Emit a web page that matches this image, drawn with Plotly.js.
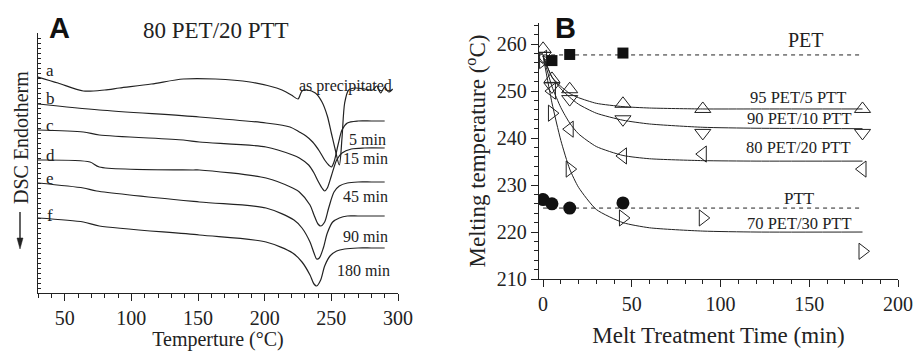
<!DOCTYPE html>
<html><head><meta charset="utf-8">
<script src="https://cdn.plot.ly/plotly-3.0.1.min.js"></script>
<style>body{margin:0;background:#fff}#chart{width:916px;height:351px}</style>
</head><body><div id="chart"></div>
<script>
// ---------- Panel A: DSC traces (heat flow, arbitrary units, offset) ----------
const tA = [30,45,64,80,91,115,139,163,189,209,213,220,225,228,232,238,243,247,250,253,256,258,260,263,268,275,281,284,287,290,293,296];
const flowA = [211,205,197,198,200,204,209,209,206,200,198,193,189,197,198,195,186,172,155,138,123,150,185,198,200,199,198,202,195,201,196,199];
const tB = [30,76,151,201,219,226,231,236,241,245,248,250,252,255,258,262,270,280,290];
const flowB = [184,178,171,165,161,156,152,146,137,128,123,121,126,143,158,165,167,167,167];
const tC = [30,64,76,139,151,201,221,226,233,237,240,243,245,247,250,254,258,265,275,290];
const flowC = [158,156,153,148,146,141,133,130,123,115,107,100,97,100,112,128,135,139,140,140];
const tD = [30,69,76,146,151,201,221,226,234,237,240,242,245,248,252,256,262,270,280,290];
const flowD = [128,126,121,118,118,110,100,96,83,73,64,62,66,80,96,102,105,106,106,106];
const tE = [30,64,74,151,201,222,228,234,237,239,241,244,247,251,256,262,270,280,290];
const flowE = [105,100,97,86,80,68,60,46,35,29,30,40,55,66,70,72,72,72,72];
const tF = [30,64,76,151,201,221,228,234,237,239,242,245,249,254,260,270,280,290];
const flowF = [70,66,62,53,46,35,26,13,4,2,8,22,32,37,39,40,40,40];
const curveLetters = ['a','b','c','d','e','f'];
const curveTimes = ['as precipitated','5 min','15 min','45 min','90 min','180 min'];

// ---------- Panel B: melting temperature vs melt treatment time ----------
const treatTime = [0,5,15,45,90,180];
const tm95 = [259.0,252.6,250.4,247.3,246.2,246.2];
const tm90 = [257.5,251.0,248.3,244.0,241.1,241.1];
const tm80 = [257.0,250.0,241.9,236.2,236.6,233.4];
const tm70 = [256.5,245.3,233.4,223.0,223.0,215.9];
const petTime = [5,15,45];
const tmPET = [256.5,257.8,258.1];
const pttTime = [0,5,15,45];
const tmPTT = [226.9,226.0,225.1,226.2];
// fitted curves
const fitTime = [0,5,10,15,20,30,45,60,90,120,180];
const fit95 = [257.5,253.0,251.0,249.5,248.6,247.4,246.7,246.4,246.2,246.2,246.2];
const fit90 = [257.5,253.0,250.5,248.7,247.2,245.3,243.8,243.0,242.3,242.1,242.0];
const fit80 = [257.5,251.0,246.5,243.2,240.9,238.2,236.3,235.6,235.2,235.1,235.1];
const fit70 = [257.5,247.5,239.5,233.4,229.5,224.8,222.0,220.9,220.2,220.0,220.0];
const refTime = [0,180];
const refPET = [257.7,257.7];
const refPTT = [225.1,225.1];
const seriesLabels = ['95 PET/5 PTT','90 PET/10 PTT','80 PET/20 PTT','70 PET/30 PTT'];

const W = 916, H = 351;
const px = x => x / W, py = y => 1 - y / H;
const serif = 'Liberation Serif, Times New Roman, serif';
const ink = '#222';

const traces = [];
[[tA,flowA],[tB,flowB],[tC,flowC],[tD,flowD],[tE,flowE],[tF,flowF]].forEach(([x,y]) => {
  traces.push({x:x, y:y, xaxis:'x', yaxis:'y', mode:'lines', line:{color:ink, width:1.2, shape:'spline', smoothing:0.8}, hoverinfo:'skip'});
});
traces.push({x:refTime, y:refPET, xaxis:'x2', yaxis:'y2', mode:'lines', line:{color:ink, width:1, dash:'4px,4px'}});
traces.push({x:refTime, y:refPTT, xaxis:'x2', yaxis:'y2', mode:'lines', line:{color:ink, width:1, dash:'4px,4px'}});
[fit95, fit90, fit80, fit70].forEach(f => traces.push({x:fitTime, y:f, xaxis:'x2', yaxis:'y2', mode:'lines', line:{color:ink, width:1, shape:'spline', smoothing:0.6}}));
const syms = ['triangle-up-open','triangle-down-open','triangle-left-open','triangle-right-open'];
[tm95, tm90, tm80, tm70].forEach((v,i) => traces.push({x:treatTime, y:v, xaxis:'x2', yaxis:'y2', mode:'markers', marker:{symbol:syms[i], size:14, color:ink, line:{width:1, color:ink}}}));
traces.push({x:petTime, y:tmPET, xaxis:'x2', yaxis:'y2', mode:'markers', marker:{symbol:'square', size:11, color:'#111'}});
traces.push({x:pttTime, y:tmPTT, xaxis:'x2', yaxis:'y2', mode:'markers', marker:{symbol:'circle', size:13, color:'#111'}});

const ann = [];
const txt = (x,y,text,size,opts={}) => ann.push(Object.assign({xref:'paper', yref:'paper', x:px(x), y:py(y), xanchor:'center', yanchor:'middle', text:text, showarrow:false, font:{family:serif, size:size, color:ink}}, opts));
const bold = {family:'Liberation Sans, Arial, sans-serif', size:29, color:'#111'};
txt(59,28,'<b>A</b>',29,{font:bold});
txt(216,30,'80 PET/20 PTT',23);
[70,98,125,155,178,215].forEach((y,i) => txt(50,y,curveLetters[i],17));
[[345,86],[367,139],[365,158],[365,196],[365,236],[363,270]].forEach((p,i) => txt(p[0],p[1],curveTimes[i],16));
txt(565,28,'<b>B</b>',29,{font:bold});
txt(806,40,'PET',20);
txt(799,199,'PTT',17);
txt(798,97,seriesLabels[0],16.5);
txt(799,118,seriesLabels[1],16.5);
txt(798,147,seriesLabels[2],16.5);
txt(799,223,seriesLabels[3],16.5);
txt(21,138,'DSC Endotherm',20,{textangle:-90});

const shapes = [
  {type:'line', xref:'paper', yref:'paper', x0:px(20), x1:px(20), y0:py(212), y1:py(240), line:{color:ink, width:1.4}},
  {type:'path', xref:'paper', yref:'paper', path:`M ${px(17)} ${py(238)} L ${px(23)} ${py(238)} L ${px(20)} ${py(249)} Z`, fillcolor:ink, line:{color:ink, width:0.5}}
];

const axBase = {showline:true, linecolor:ink, linewidth:1.2, showgrid:false, zeroline:false, tickcolor:ink, tickfont:{family:serif, size:20, color:ink}};
const layout = {
  width:W, height:H, margin:{l:0,r:0,t:0,b:0}, paper_bgcolor:'#fff', plot_bgcolor:'#fff', showlegend:false,
  xaxis: Object.assign({}, axBase, {domain:[px(38),px(398)], range:[30,300], tickvals:[50,100,150,200,250,300], ticks:'outside', ticklen:7, minor:{dtick:10, tick0:0, ticks:'outside', ticklen:4, tickcolor:ink}, anchor:'y', title:{text:'Temperture (°C)', font:{family:serif, size:20, color:ink}, standoff:4}}),
  yaxis: Object.assign({}, axBase, {domain:[py(293),py(33)], range:[-5,255], showticklabels:false, ticks:'inside', dtick:5, ticklen:3, anchor:'x'}),
  xaxis2: Object.assign({}, axBase, {domain:[px(539),px(898)], range:[-2.3,200], dtick:50, ticks:'outside', ticklen:7, minor:{dtick:10, ticks:'outside', ticklen:4, tickcolor:ink}, anchor:'y2', title:{text:'Melt Treatment Time (min)', font:{family:serif, size:23, color:ink}, standoff:12}}),
  yaxis2: Object.assign({}, axBase, {domain:[py(279),py(23)], range:[210,264.5], dtick:10, ticks:'outside', ticklen:7, minor:{dtick:2, ticks:'outside', ticklen:4, tickcolor:ink}, anchor:'x2', title:{text:'Melting temperature (<sup>o</sup>C)', font:{family:serif, size:23, color:ink}, standoff:4}}),
  annotations: ann, shapes: shapes
};
Plotly.newPlot('chart', traces, layout, {displayModeBar:false, staticPlot:true});
</script></body></html>
